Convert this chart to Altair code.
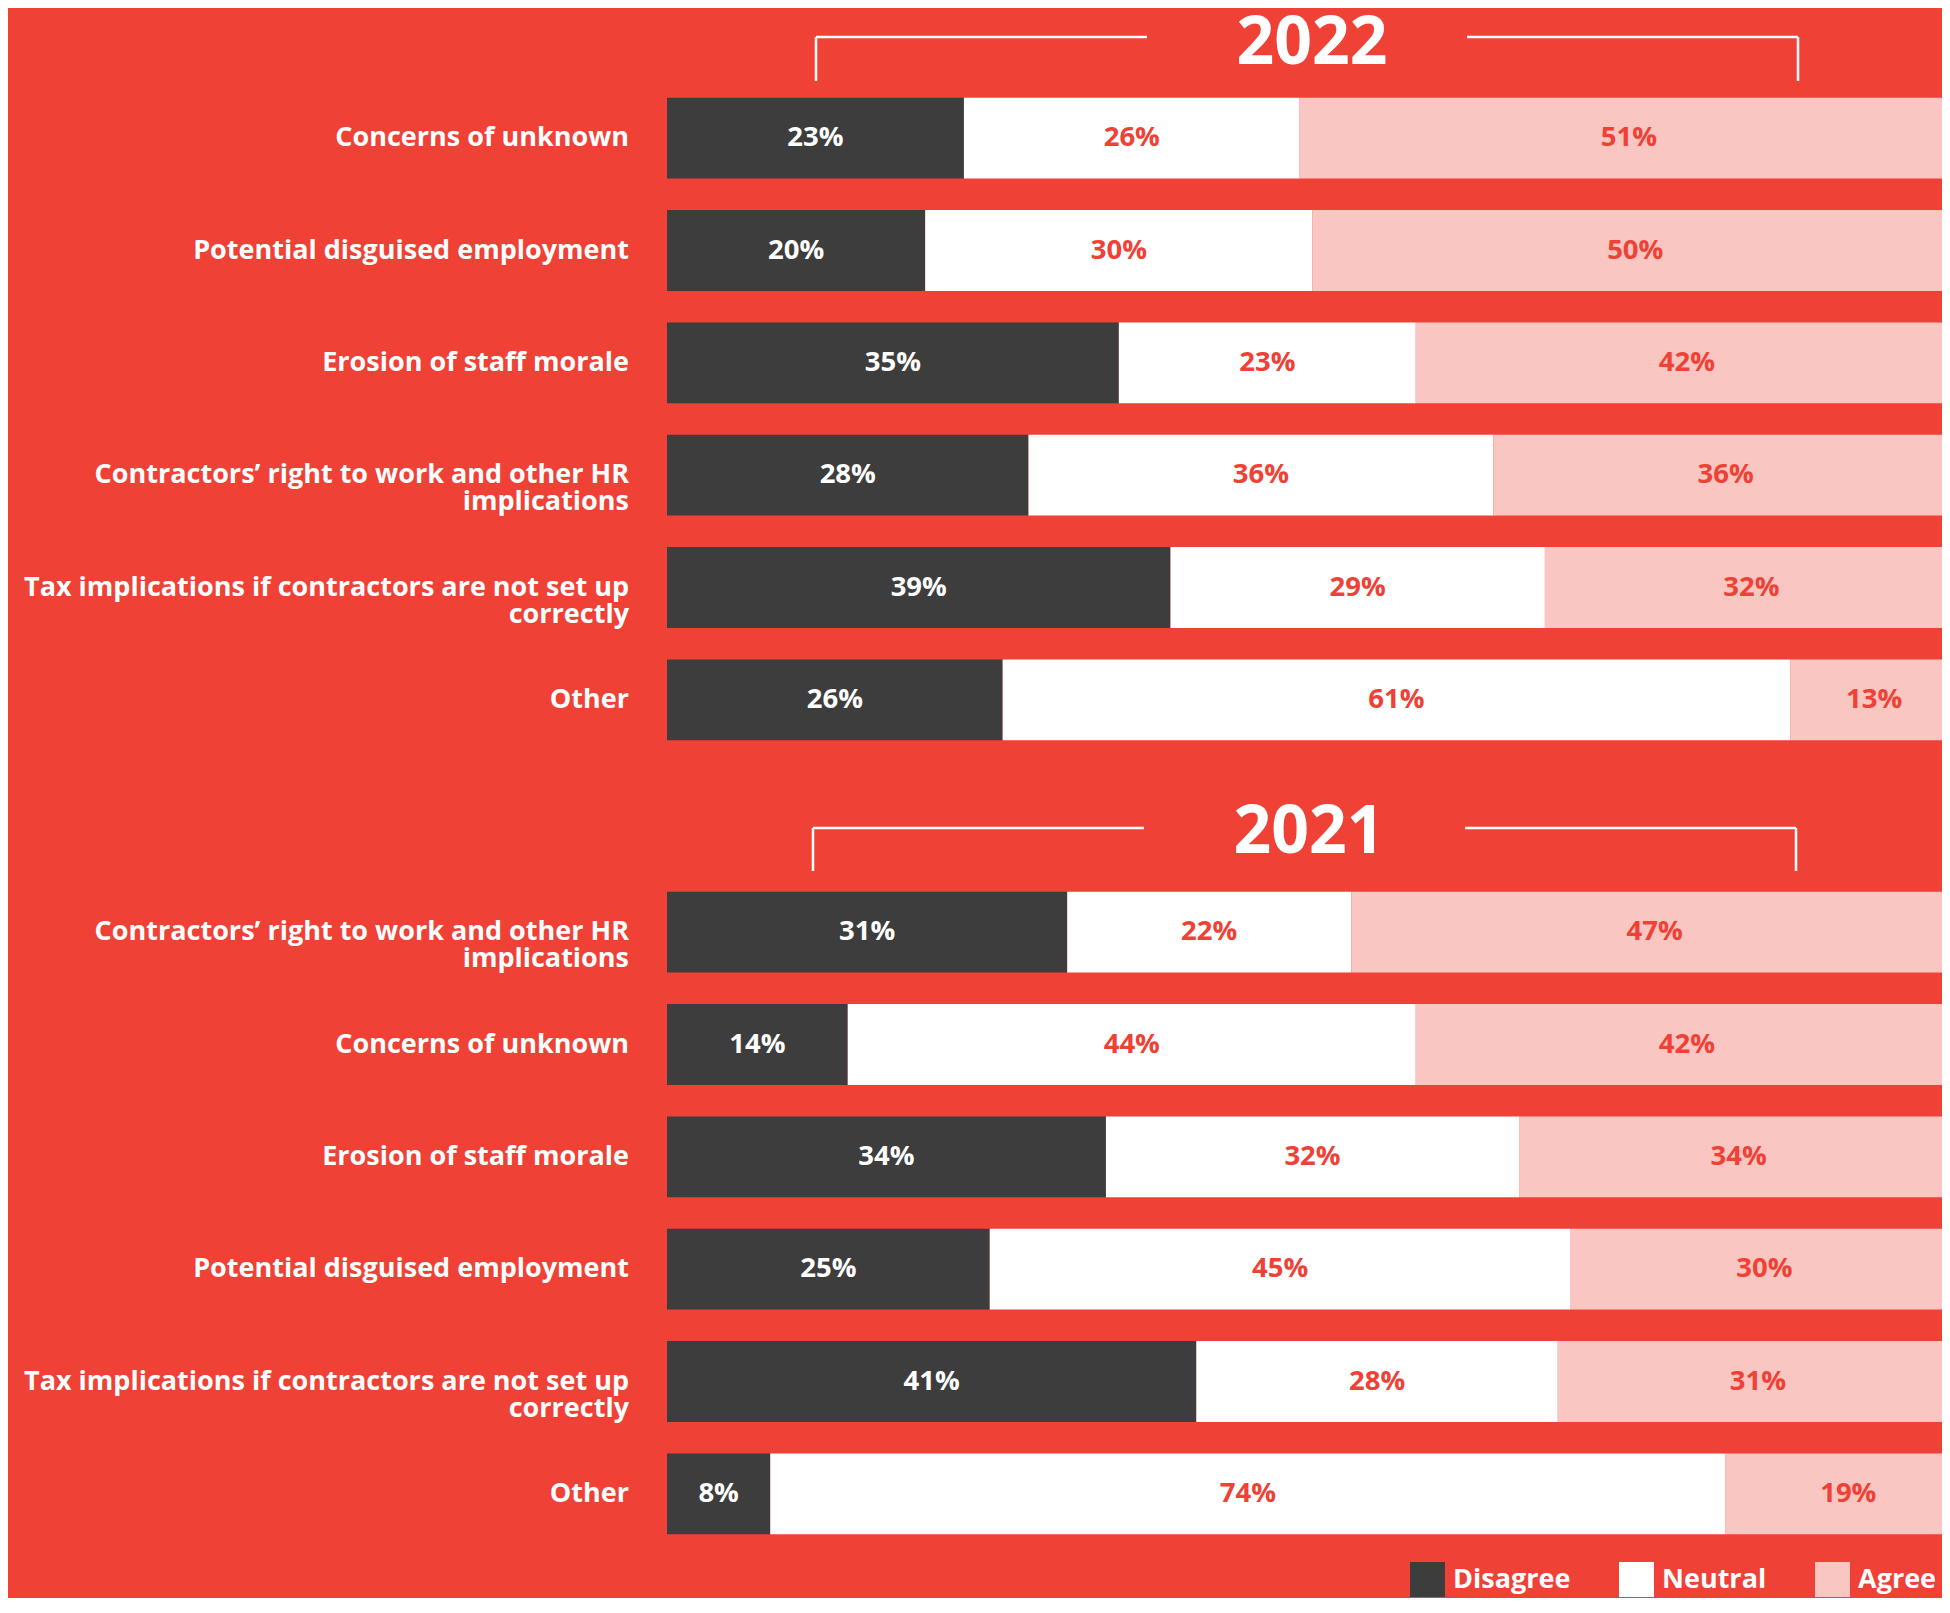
import altair as alt
import pandas as pd

RED = "#EF4136"
DARK = "#3D3D3D"
PINK = "#F9C6C1"
FONT = "Open Sans"

responses = ["Disagree", "Neutral", "Agree"]
response_colors = [DARK, "#FFFFFF", PINK]

categories_2022 = [
    "Concerns of unknown",
    "Potential disguised employment",
    "Erosion of staff morale",
    "Contractors\u2019 right to work and other HR\nimplications",
    "Tax implications if contractors are not set up\ncorrectly",
    "Other",
]
disagree_2022 = [23, 20, 35, 28, 39, 26]
neutral_2022 = [26, 30, 23, 36, 29, 61]
agree_2022 = [51, 50, 42, 36, 32, 13]

categories_2021 = [
    "Contractors\u2019 right to work and other HR\nimplications",
    "Concerns of unknown",
    "Erosion of staff morale",
    "Potential disguised employment",
    "Tax implications if contractors are not set up\ncorrectly",
    "Other",
]
disagree_2021 = [31, 14, 34, 25, 41, 8]
neutral_2021 = [22, 44, 32, 45, 28, 74]
agree_2021 = [47, 42, 34, 30, 31, 19]


def build_long(cats, d, n, a):
    rows = []
    for c, dv, nv, av in zip(cats, d, n, a):
        start = 0
        for r, v in zip(responses, (dv, nv, av)):
            rows.append({"category": c, "response": r, "value": v,
                         "start": start, "end": start + v,
                         "mid": start + v / 2, "label": f"{v}%"})
            start += v
    return pd.DataFrame(rows)


PANEL_W = 1275
xscale = alt.Scale(domain=[0, 98.76], nice=False, zero=False)
color_scale = alt.Scale(domain=responses, range=response_colors)
legend = alt.Legend(orient="none", legendX=743, legendY=1480, direction="horizontal",
                    title=None, symbolType="square", symbolSize=1225, symbolStrokeWidth=0,
                    labelFont=FONT, labelFontSize=27, labelFontWeight="bold",
                    labelColor="white", labelOffset=8, columnPadding=48, padding=0,
                    labelLimit=400)
one = pd.DataFrame({"a": [0]})


def rule(x1, x2, y1, y2):
    return alt.Chart(one).mark_rule(color="white", strokeWidth=2.5).encode(
        x=alt.value(x1), x2=alt.value(x2), y=alt.value(y1), y2=alt.value(y2))


def panel(cats, d, n, a, title, tx, ty, bx, by, bound=False):
    df = build_long(cats, d, n, a)
    y = alt.Y("category:N", sort=cats, axis=None,
              scale=alt.Scale(domain=cats, paddingInner=0.28, paddingOuter=0.14))
    base = alt.Chart(df)
    bars = base.mark_bar(clip=True).encode(
        x=alt.X("start:Q", scale=xscale, axis=None),
        x2="end:Q",
        y=y,
        color=alt.Color("response:N", scale=color_scale, legend=legend),
    )
    vals = base.mark_text(font=FONT, fontSize=27.5, fontWeight="bold",
                          baseline="middle", align="center").encode(
        x=alt.X("mid:Q", scale=xscale, axis=None),
        y=y,
        text="label:N",
        color=alt.when(alt.datum.response == "Disagree")
        .then(alt.value("white")).otherwise(alt.value(RED)),
    )
    labs = alt.Chart(pd.DataFrame({"category": cats})).mark_text(
        align="right", baseline="middle", font=FONT, fontSize=27,
        fontWeight="bold", color="white", lineBreak="\n", lineHeight=27,
    ).encode(x=alt.value(-38), y=y, text="category:N")
    ttl = alt.Chart(one).mark_text(
        text=title, font=FONT, fontSize=66, fontWeight="bold", color="white",
        align="center", baseline="middle",
    ).encode(x=alt.value(tx), y=alt.value(ty))
    xl, xlm, xrm, xr = bx
    yt, yb = by
    brackets = [rule(xl, xl, yt, yb), rule(xl, xlm, yt, yt),
                rule(xrm, xr, yt, yt), rule(xr, xr, yt, yb)]
    layers = []
    if bound:
        layers.append(alt.Chart(one).mark_rect(opacity=0).encode(
            x=alt.value(-659), x2=alt.value(PANEL_W), y=alt.value(-74), y2=alt.value(1516)))
    layers += [bars, vals, labs, ttl] + brackets
    return alt.layer(*layers).properties(width=PANEL_W, height=674)


p1 = panel(categories_2022, disagree_2022, neutral_2022, agree_2022, "2022",
           645, -38, (149, 480, 800, 1131), (-45, -1), bound=True)
p2 = panel(categories_2021, disagree_2021, neutral_2021, agree_2021, "2021",
           642, -43, (146, 477, 798, 1129), (-48, -5))

chart = alt.vconcat(p1, p2, spacing=120, bounds="flush").properties(
    padding=0, background=RED
).configure_view(stroke=None)

chart.save("out.html", embed_options={"renderer": "svg", "actions": False})
